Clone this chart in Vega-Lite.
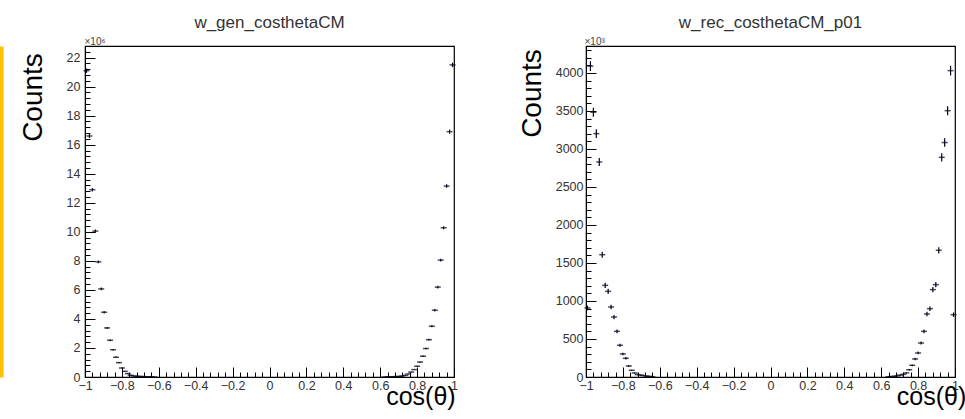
{
  "$schema": "https://vega.github.io/schema/vega-lite/v6.json",
  "background": "white",
  "padding": {"left": 0, "top": 13, "right": 0, "bottom": 0},
  "bounds": "flush",
  "spacing": 132,
  "config": {
    "view": {"stroke": "black", "strokeWidth": 1.2},
    "font": "Liberation Sans",
    "axis": {"grid": false, "tickColor": "black", "domainColor": "black", "labelFont": "Liberation Sans", "labelFontSize": 12.5, "labelColor": "#333", "titleFont": "Liberation Sans", "titleFontWeight": "normal", "titleColor": "black", "labelFlush": false, "labelOverlap": false, "labelBound": false, "tickWidth": 1}
  },
  "hconcat": [
    {
      "width": 369, "height": 331,
      "title": {"text": "w_gen_costhetaCM", "frame": "group", "anchor": "middle", "baseline": "alphabetic", "offset": -9, "fontSize": 17, "font": "Liberation Sans", "fontWeight": "normal", "color": "#333"},
      "data": {"values": [
        {"x": -0.992, "y": 21.1, "e": 0.15}, {"x": -0.976, "y": 16.6, "e": 0.14}, {"x": -0.960, "y": 12.9, "e": 0.12}, {"x": -0.944, "y": 10.05, "e": 0.11},
        {"x": -0.928, "y": 7.93, "e": 0.1}, {"x": -0.912, "y": 6.07, "e": 0.09}, {"x": -0.896, "y": 4.46, "e": 0.08}, {"x": -0.880, "y": 3.38, "e": 0.07},
        {"x": -0.864, "y": 2.53, "e": 0.06}, {"x": -0.848, "y": 1.88, "e": 0.05}, {"x": -0.832, "y": 1.36, "e": 0.05}, {"x": -0.816, "y": 0.99, "e": 0.04},
        {"x": -0.800, "y": 0.62, "e": 0.03}, {"x": -0.784, "y": 0.39, "e": 0.03}, {"x": -0.768, "y": 0.23, "e": 0.02}, {"x": -0.752, "y": 0.12, "e": 0.02},
        {"x": -0.736, "y": 0.07, "e": 0.01}, {"x": -0.720, "y": 0.05, "e": 0.01}, {"x": -0.704, "y": 0.04, "e": 0.01}, {"x": -0.688, "y": 0.03, "e": 0.01},
        {"x": -0.672, "y": 0.02, "e": 0.01}, {"x": -0.656, "y": 0.012, "e": 0.005}, {"x": -0.640, "y": 0.006, "e": 0.004}, {"x": -0.624, "y": 0.003, "e": 0.002},
        {"x": 0.624, "y": 0.003, "e": 0.002}, {"x": 0.640, "y": 0.006, "e": 0.004}, {"x": 0.656, "y": 0.01, "e": 0.005}, {"x": 0.672, "y": 0.02, "e": 0.01},
        {"x": 0.688, "y": 0.03, "e": 0.01}, {"x": 0.704, "y": 0.04, "e": 0.01}, {"x": 0.720, "y": 0.07, "e": 0.01}, {"x": 0.736, "y": 0.12, "e": 0.02},
        {"x": 0.752, "y": 0.21, "e": 0.02}, {"x": 0.768, "y": 0.34, "e": 0.03}, {"x": 0.784, "y": 0.51, "e": 0.03}, {"x": 0.800, "y": 0.74, "e": 0.04},
        {"x": 0.816, "y": 1.03, "e": 0.04}, {"x": 0.832, "y": 1.43, "e": 0.05}, {"x": 0.848, "y": 1.96, "e": 0.05}, {"x": 0.864, "y": 2.57, "e": 0.06},
        {"x": 0.880, "y": 3.5, "e": 0.07}, {"x": 0.896, "y": 4.6, "e": 0.08}, {"x": 0.912, "y": 6.19, "e": 0.09}, {"x": 0.928, "y": 8.05, "e": 0.1},
        {"x": 0.944, "y": 10.28, "e": 0.11}, {"x": 0.960, "y": 13.15, "e": 0.12}, {"x": 0.976, "y": 16.9, "e": 0.14}, {"x": 0.992, "y": 21.5, "e": 0.15}
      ]},
      "layer": [
        {
          "mark": {"type": "errorbar", "color": "#00001a", "thickness": 1.2},
          "encoding": {
            "x": {"field": "x", "type": "quantitative", "scale": {"domain": [-1, 1], "nice": false, "zero": false},
                  "axis": {"orient": "bottom", "values": [-1, -0.8, -0.6, -0.4, -0.2, 0, 0.2, 0.4, 0.6, 0.8, 1], "format": ".1~f", "tickSize": -10, "labelPadding": 12,
                           "title": "cos(θ)", "titleFontSize": 25, "titleAlign": "left", "titleX": 300.7, "titleY": 27.5, "titleBaseline": "alphabetic"}},
            "y": {"field": "y", "type": "quantitative", "scale": {"domain": [0, 22.8], "nice": false, "zero": false},
                  "axis": {"orient": "left", "values": [0, 2, 4, 6, 8, 10, 12, 14, 16, 18, 20, 22], "tickSize": -10, "labelPadding": 15,
                           "title": "Counts", "titleFontSize": 28, "titleX": -43.3, "titleY": 51, "titleBaseline": "alphabetic", "titleAlign": "center"}},
            "yError": {"field": "e"}
          }
        },
        {
          "mark": {"type": "tick", "orient": "horizontal", "size": 6, "thickness": 1.5, "color": "#00001a"},
          "encoding": {
            "x": {"field": "x", "type": "quantitative",
                  "axis": {"orient": "bottom", "labels": false, "domain": false, "tickSize": -5, "title": null,
                           "values": [-1,-0.96,-0.92,-0.88,-0.84,-0.8,-0.76,-0.72,-0.68,-0.64,-0.6,-0.56,-0.52,-0.48,-0.44,-0.4,-0.36,-0.32,-0.28,-0.24,-0.2,-0.16,-0.12,-0.08,-0.04,0,0.04,0.08,0.12,0.16,0.2,0.24,0.28,0.32,0.36,0.4,0.44,0.48,0.52,0.56,0.6,0.64,0.68,0.72,0.76,0.8,0.84,0.88,0.92,0.96,1]}},
            "y": {"field": "y", "type": "quantitative",
                  "axis": {"orient": "left", "labels": false, "domain": false, "tickSize": -5,
                           "title": "×10⁶", "titleAngle": 0, "titleFontSize": 10, "titleColor": "#444", "titleAlign": "left", "titleBaseline": "alphabetic", "titleX": -1, "titleY": -2,
                           "values": [0,0.4,0.8,1.2,1.6,2,2.4,2.8,3.2,3.6,4,4.4,4.8,5.2,5.6,6,6.4,6.8,7.2,7.6,8,8.4,8.8,9.2,9.6,10,10.4,10.8,11.2,11.6,12,12.4,12.8,13.2,13.6,14,14.4,14.8,15.2,15.6,16,16.4,16.8,17.2,17.6,18,18.4,18.8,19.2,19.6,20,20.4,20.8,21.2,21.6,22,22.4,22.8]}}
          }
        },
        {
          "mark": {"type": "tick", "orient": "horizontal", "opacity": 0},
          "encoding": {
            "x": {"field": "x", "type": "quantitative", "axis": null},
            "y": {"field": "y", "type": "quantitative",
                  "axis": {"orient": "left", "offset": 84, "labels": false, "ticks": false, "title": null, "domainColor": "#FFC000", "domainWidth": 4}}
          }
        }
      ],
      "resolve": {"axis": {"x": "independent", "y": "independent"}}
    },
    {
      "width": 369, "height": 331,
      "title": {"text": "w_rec_costhetaCM_p01", "frame": "group", "anchor": "middle", "baseline": "alphabetic", "offset": -9, "fontSize": 17, "font": "Liberation Sans", "fontWeight": "normal", "color": "#333"},
      "data": {"values": [
        {"x": -0.992, "y": 908, "e": 30}, {"x": -0.976, "y": 4090, "e": 64}, {"x": -0.960, "y": 3483, "e": 59}, {"x": -0.944, "y": 3202, "e": 57},
        {"x": -0.928, "y": 2829, "e": 53}, {"x": -0.912, "y": 1609, "e": 40}, {"x": -0.896, "y": 1206, "e": 35}, {"x": -0.880, "y": 1127, "e": 34},
        {"x": -0.864, "y": 921, "e": 30}, {"x": -0.848, "y": 789, "e": 28}, {"x": -0.832, "y": 601, "e": 25}, {"x": -0.816, "y": 417, "e": 20},
        {"x": -0.800, "y": 303, "e": 17}, {"x": -0.784, "y": 246, "e": 16}, {"x": -0.768, "y": 145, "e": 12}, {"x": -0.752, "y": 88, "e": 9},
        {"x": -0.736, "y": 53, "e": 7}, {"x": -0.720, "y": 31, "e": 6}, {"x": -0.704, "y": 25, "e": 5}, {"x": -0.688, "y": 18, "e": 4},
        {"x": -0.672, "y": 12, "e": 3}, {"x": -0.656, "y": 8, "e": 3}, {"x": -0.640, "y": 4, "e": 2},
        {"x": 0.640, "y": 4, "e": 2}, {"x": 0.656, "y": 6, "e": 2}, {"x": 0.672, "y": 10, "e": 3}, {"x": 0.688, "y": 15, "e": 4},
        {"x": 0.704, "y": 25, "e": 5}, {"x": 0.720, "y": 35, "e": 6}, {"x": 0.736, "y": 53, "e": 7}, {"x": 0.752, "y": 96, "e": 10},
        {"x": 0.768, "y": 154, "e": 12}, {"x": 0.784, "y": 237, "e": 15}, {"x": 0.800, "y": 316, "e": 18}, {"x": 0.816, "y": 447, "e": 21},
        {"x": 0.832, "y": 601, "e": 25}, {"x": 0.848, "y": 829, "e": 29}, {"x": 0.864, "y": 899, "e": 30}, {"x": 0.880, "y": 1150, "e": 34},
        {"x": 0.896, "y": 1215, "e": 35}, {"x": 0.912, "y": 1667, "e": 41}, {"x": 0.928, "y": 2890, "e": 54}, {"x": 0.944, "y": 3085, "e": 56},
        {"x": 0.960, "y": 3504, "e": 59}, {"x": 0.976, "y": 4031, "e": 64}, {"x": 0.992, "y": 820, "e": 29}
      ]},
      "layer": [
        {
          "mark": {"type": "errorbar", "color": "#00001a", "thickness": 1.2},
          "encoding": {
            "x": {"field": "x", "type": "quantitative", "scale": {"domain": [-1, 1], "nice": false, "zero": false},
                  "axis": {"orient": "bottom", "values": [-1, -0.8, -0.6, -0.4, -0.2, 0, 0.2, 0.4, 0.6, 0.8, 1], "format": ".1~f", "tickSize": -10, "labelPadding": 12,
                           "title": "cos(θ)", "titleFontSize": 25, "titleAlign": "left", "titleX": 310.3, "titleY": 27.5, "titleBaseline": "alphabetic"}},
            "y": {"field": "y", "type": "quantitative", "scale": {"domain": [0, 4355], "nice": false, "zero": false},
                  "axis": {"orient": "left", "values": [0, 500, 1000, 1500, 2000, 2500, 3000, 3500, 4000], "format": "d", "tickSize": -10, "labelPadding": 13,
                           "title": "Counts", "titleFontSize": 28, "titleX": -46, "titleY": 47, "titleBaseline": "alphabetic", "titleAlign": "center"}},
            "yError": {"field": "e"}
          }
        },
        {
          "mark": {"type": "tick", "orient": "horizontal", "size": 6, "thickness": 1.5, "color": "#00001a"},
          "encoding": {
            "x": {"field": "x", "type": "quantitative",
                  "axis": {"orient": "bottom", "labels": false, "domain": false, "tickSize": -5, "title": null,
                           "values": [-1,-0.96,-0.92,-0.88,-0.84,-0.8,-0.76,-0.72,-0.68,-0.64,-0.6,-0.56,-0.52,-0.48,-0.44,-0.4,-0.36,-0.32,-0.28,-0.24,-0.2,-0.16,-0.12,-0.08,-0.04,0,0.04,0.08,0.12,0.16,0.2,0.24,0.28,0.32,0.36,0.4,0.44,0.48,0.52,0.56,0.6,0.64,0.68,0.72,0.76,0.8,0.84,0.88,0.92,0.96,1]}},
            "y": {"field": "y", "type": "quantitative",
                  "axis": {"orient": "left", "labels": false, "domain": false, "tickSize": -5,
                           "title": "×10³", "titleAngle": 0, "titleFontSize": 10, "titleColor": "#444", "titleAlign": "left", "titleBaseline": "alphabetic", "titleX": -2, "titleY": -2,
                           "values": [0,100,200,300,400,500,600,700,800,900,1000,1100,1200,1300,1400,1500,1600,1700,1800,1900,2000,2100,2200,2300,2400,2500,2600,2700,2800,2900,3000,3100,3200,3300,3400,3500,3600,3700,3800,3900,4000,4100,4200,4300]}}
          }
        }
      ],
      "resolve": {"axis": {"x": "independent", "y": "independent"}}
    }
  ]
}
